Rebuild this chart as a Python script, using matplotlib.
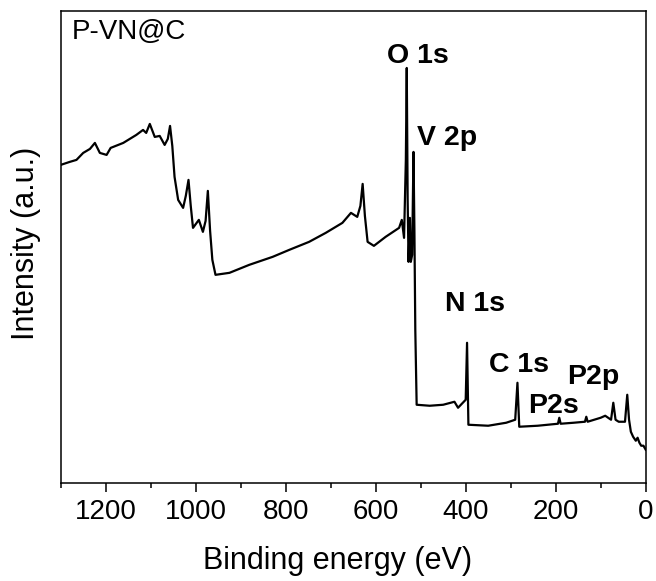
import matplotlib
matplotlib.use("Agg")
import matplotlib.pyplot as plt
from matplotlib.ticker import MultipleLocator

plt.rcParams['font.family'] = ['Liberation Sans', 'DejaVu Sans']

# Binding energy (eV)
energy = [1300, 1280, 1265, 1250, 1235, 1224, 1213, 1198, 1189, 1161, 1132, 1117,
          1110, 1102, 1091, 1080, 1069, 1062, 1057, 1052, 1047, 1039, 1028, 1022,
          1016, 1011, 1006, 993, 984, 978, 973, 968, 963, 956, 925, 881, 829, 792,
          748, 711, 674, 655, 641, 634, 629, 624, 618, 604, 578, 548, 542, 537,
          533, 531, 529, 527, 524, 522, 519, 516, 514, 512, 509, 480, 450, 425,
          417, 400, 397, 394, 350, 310, 290, 285, 281, 240, 195, 192, 189, 160,
          135, 132, 129, 100, 90, 77, 72, 67, 60, 46, 41, 37, 33, 28, 22, 18, 14,
          10, 5, 0]

# Intensity (arbitrary units)
intensity = [416, 419, 421, 428, 432, 438, 428, 426, 433, 438, 446, 451,
             448, 457, 444, 445, 436, 442, 455, 435, 404, 381, 373, 385,
             401, 375, 353, 361, 349, 360, 390, 350, 321, 306, 308, 316, 324, 331,
             339, 348, 358, 368, 364, 375, 397, 365, 339, 335, 344, 353, 361, 343,
             421, 513, 381, 319, 363, 319, 326, 429, 351, 251, 176, 175, 176, 179,
             173, 181, 238, 156, 155, 158, 161, 198, 154, 155, 157, 163, 157, 158,
             159, 164, 159, 163, 165, 161, 178, 161, 159, 159, 186, 161, 149, 144,
             140, 143, 138, 135, 135, 131]

# Peak labels: text, energy, intensity of label baseline
peak_labels = ["O 1s", "V 2p", "N 1s", "C 1s", "P2p", "P2s"]
label_energy = [506, 441, 380, 281, 117, 205]
label_level = [518, 436, 270, 209, 197, 168]

sample_name = "P-VN@C"

fig = plt.figure(figsize=(6.56, 5.81), dpi=100)
ax = fig.add_axes([60.7 / 656, (581 - 482.7) / 581, 585 / 656, (482.7 - 11) / 581])

ax.plot(energy, intensity, color='black', lw=1.6)

ax.set_xlim(1300, 0)
ax.set_ylim(98, 570)
ax.xaxis.set_major_locator(MultipleLocator(200))
ax.xaxis.set_minor_locator(MultipleLocator(100))
ax.tick_params(axis='x', which='major', direction='out', length=6.5, width=1.1,
               labelsize=20, pad=5, top=False)
ax.tick_params(axis='x', which='minor', direction='out', length=3.6, width=1.1, top=False)
ax.set_yticks([])
for s in ax.spines.values():
    s.set_linewidth(1.1)

ax.set_xlabel("Binding energy (eV)", fontsize=22)
ax.xaxis.set_label_coords(0.474, -0.134)
ax.set_ylabel("Intensity (a.u.)", fontsize=22)
ax.yaxis.set_label_coords(-0.033, 0.508)

for t, e, lv in zip(peak_labels, label_energy, label_level):
    ax.text(e, lv, t, fontsize=20.5, fontweight='bold', ha='center', va='baseline')

ax.text(0.019, 0.94, sample_name, transform=ax.transAxes, fontsize=20,
        ha='left', va='baseline')

fig.savefig("out.png", dpi=100)
